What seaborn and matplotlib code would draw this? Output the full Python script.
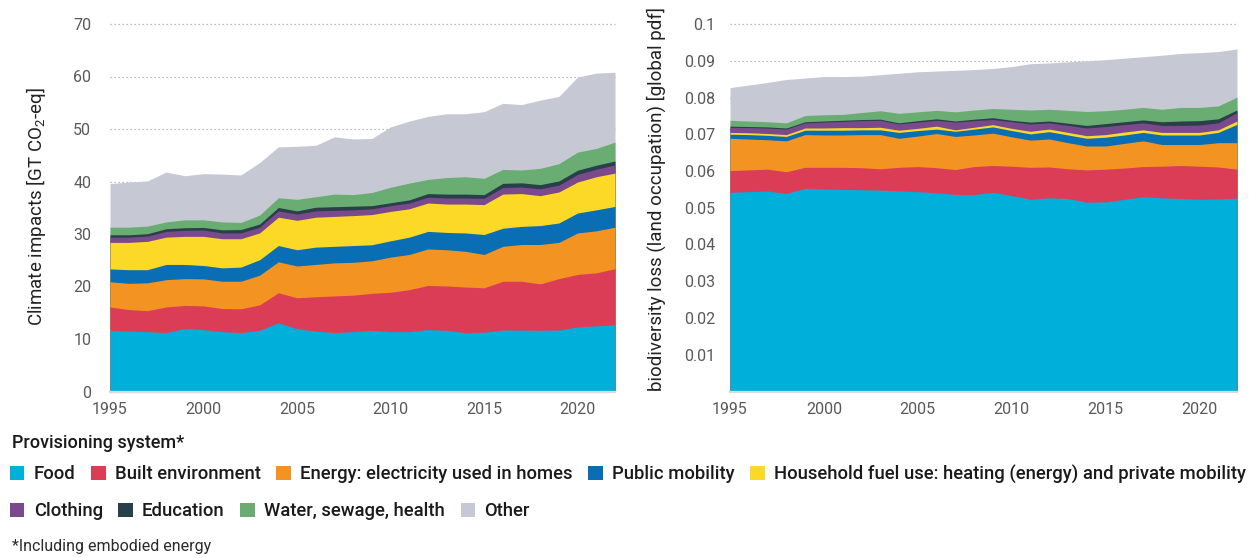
import matplotlib
matplotlib.use("Agg")
import matplotlib.pyplot as plt
from matplotlib.patches import Patch
import numpy as np
import pandas as pd
import seaborn as sns

# ---- data -------------------------------------------------------------
years = list(range(1995, 2023))

systems = [
    "Food",
    "Built environment",
    "Energy: electricity used in homes",
    "Public mobility",
    "Household fuel use: heating (energy) and private mobility",
    "Clothing",
    "Education",
    "Water, sewage, health",
    "Other",
]
colors = ["#00b0da", "#dc3d56", "#f39422", "#0a6eb4", "#fdd927",
          "#7b4a8d", "#293f49", "#69ad73", "#c6c9d4"]

# Climate impacts per provisioning system [GT CO2-eq]
food_climate = [11.65, 11.5, 11.4, 11.2, 12.0, 11.8, 11.4, 11.2, 11.65, 13.1, 11.95, 11.5, 11.2, 11.4,
                11.65, 11.4, 11.4, 11.8, 11.65, 11.2, 11.3, 11.7, 11.7, 11.65, 11.7, 12.3, 12.5, 12.7]
built_climate = [4.45, 4.1, 4.0, 4.9, 4.4, 4.5, 4.4, 4.55, 4.85, 5.7, 5.9, 6.55, 7.0, 6.95,
                 7.05, 7.5, 8.0, 8.4, 8.45, 8.7, 8.45, 9.3, 9.3, 8.85, 9.8, 10.0, 10.1, 10.7]
energy_climate = [4.8, 5.0, 5.3, 5.2, 5.1, 5.15, 5.2, 5.25, 5.65, 5.9, 6.05, 6.15, 6.3, 6.25,
                  6.2, 6.7, 6.7, 6.95, 6.9, 6.8, 6.35, 6.65, 7.0, 7.5, 6.9, 7.9, 8.0, 7.9]
public_climate = [2.45, 2.6, 2.5, 2.9, 2.7, 2.55, 2.55, 2.7, 2.95, 3.1, 3.1, 3.3, 3.15, 3.2,
                  3.05, 3.1, 3.3, 3.35, 3.3, 3.5, 3.8, 3.45, 3.45, 3.6, 3.7, 3.8, 4.0, 3.95]
household_climate = [5.05, 5.2, 5.4, 5.2, 5.35, 5.55, 5.55, 5.4, 5.1, 5.4, 5.6, 5.7, 5.7, 5.7,
                     5.75, 5.6, 5.4, 5.4, 5.4, 5.5, 5.7, 6.5, 6.25, 5.7, 5.9, 5.9, 6.3, 6.35]
clothing_climate = [1.0, 1.0, 1.0, 1.1, 1.15, 1.2, 1.1, 1.1, 1.1, 1.2, 1.2, 1.2, 1.15, 1.1,
                    1.1, 1.1, 1.1, 1.1, 1.15, 1.15, 1.2, 1.25, 1.25, 1.3, 1.3, 1.45, 1.45, 1.55]
education_climate = [0.45, 0.45, 0.45, 0.5, 0.5, 0.5, 0.6, 0.65, 0.6, 0.65, 0.6, 0.7, 0.7, 0.7,
                     0.6, 0.55, 0.6, 0.7, 0.75, 0.75, 0.7, 0.8, 0.8, 0.8, 0.8, 0.8, 0.75, 0.75]
water_climate = [1.45, 1.45, 1.45, 1.3, 1.5, 1.45, 1.5, 1.35, 1.7, 1.85, 2.2, 2.0, 2.4, 2.2,
                 2.5, 2.95, 3.2, 2.7, 3.15, 3.3, 3.1, 2.65, 2.45, 3.1, 3.3, 3.45, 3.2, 3.6]
other_climate = [8.3, 8.6, 8.6, 9.5, 8.4, 8.8, 9.1, 9.05, 10.0, 9.7, 10.1, 9.8, 10.9, 10.6,
                 10.3, 11.5, 11.8, 12.0, 12.15, 12.0, 12.7, 12.6, 12.45, 13.0, 12.8, 14.3, 14.35, 13.3]

# Biodiversity loss from land occupation per provisioning system [global pdf]
food_bio = [0.0542, 0.0544, 0.05455, 0.0539, 0.0553, 0.0551, 0.0550, 0.0549, 0.0548, 0.0546,
            0.05436, 0.0541, 0.0536, 0.0536, 0.0542, 0.0533, 0.0523, 0.0527, 0.0525, 0.0515,
            0.0516, 0.0523, 0.0530, 0.0527, 0.0525, 0.0523, 0.0524, 0.0526]
built_bio = [0.0059, 0.0059, 0.00595, 0.0059, 0.0057, 0.0059, 0.0060, 0.0060, 0.0058, 0.0064,
             0.00684, 0.0068, 0.0068, 0.0076, 0.0073, 0.0080, 0.0087, 0.0084, 0.0081, 0.0088,
             0.0089, 0.0085, 0.0082, 0.0086, 0.0090, 0.0090, 0.0087, 0.0079]
energy_bio = [0.0088, 0.0084, 0.0080, 0.0084, 0.0089, 0.0088, 0.0088, 0.0090, 0.0093, 0.0079,
              0.0083, 0.0093, 0.0090, 0.0086, 0.0088, 0.0080, 0.0074, 0.0076, 0.0071, 0.0065,
              0.0063, 0.0067, 0.0070, 0.0059, 0.0057, 0.0059, 0.0066, 0.0072]
public_bio = [0.0011, 0.0012, 0.0012, 0.0012, 0.0012, 0.0013, 0.0013, 0.0013, 0.0013, 0.0016,
              0.0015, 0.0012, 0.0014, 0.0016, 0.0017, 0.0017, 0.0017, 0.0020, 0.0021, 0.0021,
              0.0024, 0.0023, 0.0023, 0.0026, 0.0026, 0.0026, 0.0028, 0.0050]
household_bio = [0.0005, 0.0005, 0.0005, 0.0005, 0.0006, 0.0006, 0.0007, 0.0006, 0.0007, 0.0006,
                 0.0006, 0.0008, 0.0004, 0.0005, 0.0006, 0.0006, 0.0007, 0.0007, 0.0007, 0.0007,
                 0.0007, 0.0008, 0.0007, 0.0007, 0.0007, 0.0007, 0.0007, 0.0009]
clothing_bio = [0.0014, 0.0014, 0.0015, 0.0015, 0.0014, 0.0016, 0.0017, 0.0019, 0.0019, 0.0017,
                0.0017, 0.0016, 0.0021, 0.0018, 0.0014, 0.0018, 0.0020, 0.0017, 0.0019, 0.0021,
                0.0022, 0.0020, 0.0019, 0.0019, 0.0019, 0.0020, 0.0019, 0.0023]
education_bio = [0.0003, 0.0003, 0.0003, 0.0003, 0.0003, 0.0003, 0.0003, 0.0003, 0.0003, 0.0003,
                 0.0004, 0.0004, 0.0003, 0.0004, 0.0005, 0.0004, 0.0005, 0.0005, 0.0006, 0.0007,
                 0.0008, 0.0008, 0.0008, 0.0010, 0.0012, 0.0012, 0.0011, 0.0007]
water_bio = [0.0016, 0.0015, 0.0014, 0.0014, 0.0017, 0.0017, 0.0016, 0.0019, 0.0023, 0.0026,
             0.0024, 0.0023, 0.0025, 0.0025, 0.0025, 0.0030, 0.0033, 0.0032, 0.0035, 0.0038,
             0.0035, 0.0034, 0.0034, 0.0034, 0.0037, 0.0036, 0.0035, 0.0035]
other_bio = [0.0089, 0.0098, 0.0107, 0.0118, 0.0102, 0.0104, 0.0103, 0.0099, 0.0098, 0.0109,
             0.0109, 0.0107, 0.0113, 0.0110, 0.0109, 0.0116, 0.0126, 0.0126, 0.0132, 0.0138,
             0.0139, 0.0139, 0.0138, 0.0147, 0.0147, 0.0149, 0.0148, 0.0131]

year_ticks = [1995, 2000, 2005, 2010, 2015, 2020]
climate_ticks = [0, 10, 20, 30, 40, 50, 60, 70]
bio_ticks = [0.01, 0.02, 0.03, 0.04, 0.05, 0.06, 0.07, 0.08, 0.09, 0.1]
bio_tick_labels = ["0.01", "0.02", "0.03", "0.04", "0.05", "0.06", "0.07", "0.08", "0.09", "0.1"]

climate = pd.DataFrame(
    dict(zip(systems, [food_climate, built_climate, energy_climate, public_climate,
                       household_climate, clothing_climate, education_climate,
                       water_climate, other_climate])), index=years)
bio = pd.DataFrame(
    dict(zip(systems, [food_bio, built_bio, energy_bio, public_bio, household_bio,
                       clothing_bio, education_bio, water_bio, other_bio])), index=years)

# ---- style ------------------------------------------------------------
sns.set_theme(style="white")
plt.rcParams["font.family"] = ["Roboto", "DejaVu Sans"]
plt.rcParams["mathtext.default"] = "regular"
palette = sns.color_palette(colors)

W, H = 1258, 558
fig = plt.figure(figsize=(W / 100, H / 100), dpi=100)


def box(left, top, right, bottom):
    return [left / W, 1 - bottom / H, (right - left) / W, (bottom - top) / H]


ax1 = fig.add_axes(box(110, 24, 615, 391.5))
ax2 = fig.add_axes(box(730, 24, 1237, 391.5))


def stacked_area(ax, frame):
    tops = frame.cumsum(axis=1)
    # paint from the top layer down so neighbouring layers never leave seams
    for name, color in reversed(list(zip(systems, palette))):
        ax.fill_between(frame.index, 0, tops[name], color=color, linewidth=0, zorder=2)


stacked_area(ax1, climate)
stacked_area(ax2, bio)

ax1.set_ylim(0, 70)
ax1.set_yticks(climate_ticks)
ax1.set_yticklabels([str(t) for t in climate_ticks])
ax2.set_ylim(0, 0.1)
ax2.set_yticks(bio_ticks)
ax2.set_yticklabels(bio_tick_labels)

for ax, ypad in ((ax1, 13.5), (ax2, 10.5)):
    ax.set_xlim(years[0], years[-1])
    ax.set_xticks(year_ticks)
    ax.set_xticklabels([str(y) for y in year_ticks])
    ax.set_axisbelow(True)
    ax.grid(False)
    ax.yaxis.grid(True, color="#a8a8a8", linestyle=(0, (1, 2.2)), linewidth=0.9)
    for gl in ax.get_ygridlines():
        gl.set_clip_on(False)
    for side in ("top", "right", "left"):
        ax.spines[side].set_visible(False)
    ax.spines["bottom"].set_color("#dadada")
    ax.spines["bottom"].set_linewidth(1.6)
    ax.spines["bottom"].set_zorder(3)
    ax.tick_params(axis="y", length=0, pad=ypad, labelsize=11.5, labelcolor="#595959")
    ax.tick_params(axis="x", length=0, pad=7.5, labelsize=11.5, labelcolor="#595959")
    ax.set_facecolor("none")

fig.text(36 / W, 1 - 207 / H, "Climate impacts [GT CO$_2$-eq]", rotation=90,
         ha="center", va="center", fontsize=13.5, color="#222222")
fig.text(656 / W, 1 - 199 / H, "biodiversity loss (land occupation) [global pdf]",
         rotation=90, ha="center", va="center", fontsize=13.5, color="#222222")

# ---- legend -----------------------------------------------------------
handles = [Patch(facecolor=c, edgecolor="none", label=s) for s, c in zip(systems, palette)]
fig.text(12 / W, 1 - 443 / H, "Provisioning system*", ha="left", va="center",
         fontsize=13, fontweight="medium", color="#1a1a1a")
legend_kw = dict(frameon=False, handlelength=0.78, handleheight=0.78,
                 handletextpad=0.5, columnspacing=0.85, borderpad=0, borderaxespad=0,
                 labelcolor="#1a1a1a", loc="center left",
                 prop={"family": ["Roboto", "DejaVu Sans"], "size": 13.3, "weight": "medium"})
row1 = fig.legend(handles=handles[:5], ncol=5, bbox_to_anchor=(10 / W, 1 - 474 / H), **legend_kw)
row2 = fig.legend(handles=handles[5:], ncol=4, bbox_to_anchor=(10 / W, 1 - 511 / H), **legend_kw)
fig.text(12 / W, 1 - 547 / H, "*Including embodied energy", ha="left", va="center",
         fontsize=11.5, color="#2a2a2a")

fig.savefig("out.png", dpi=100, facecolor="white")
